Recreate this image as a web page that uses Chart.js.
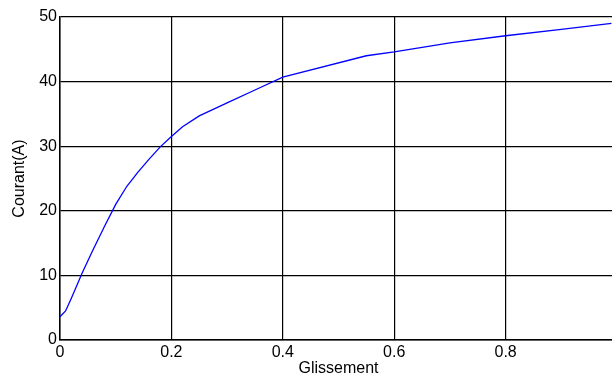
<!DOCTYPE html>
<html>
<head>
<meta charset="utf-8">
<script src="https://cdn.jsdelivr.net/npm/chart.js@4.4.0/dist/chart.umd.min.js"></script>
<style>
  html, body { margin: 0; padding: 0; background: #fff; overflow: hidden; }
  #wrap { width: 612px; height: 378px; overflow: hidden; }
  canvas { display: block; }
</style>
</head>
<body>
<div id="wrap"><canvas id="chart" width="630" height="378"></canvas></div>
<script>
// Glissement (slip) values and the current
const slip = [0, 0.01, 0.02, 0.04, 0.06, 0.08, 0.1, 0.12, 0.14, 0.16, 0.18, 0.2, 0.22, 0.25,
  0.3, 0.35, 0.4, 0.55, 0.6, 0.7, 0.8, 0.9, 0.99];
const current = [3.6, 4.5, 6.4, 10.4, 14.1, 17.6, 21.0, 23.8, 26.0, 28.0, 29.9, 31.5, 33.0, 34.7,
  36.7, 38.7, 40.7, 44.0, 44.6, 46.0, 47.1, 48.1, 49.0];

const xTicks = [0, 0.2, 0.4, 0.6, 0.8, 1];
const yTicks = [0, 10, 20, 30, 40, 50];

const points = slip.map((s, i) => ({ x: s, y: current[i] }));

const ctx = document.getElementById("chart").getContext("2d");
new Chart(ctx, {
    type: "line",
    data: {
        datasets: [
            {
                data: points,
                borderColor: "#0000ff",
                borderWidth: 1.3,
                pointRadius: 0,
                fill: false,
                tension: 0,
            },
        ],
    },
    options: {
        responsive: false,
        animation: false,
        layout: { padding: { left: 0, top: 17, right: 13, bottom: 0 } },
        plugins: {
            legend: { display: false },
            tooltip: { enabled: false },
        },
        scales: {
            x: {
                type: "linear",
                min: 0,
                max: 1,
                afterBuildTicks: (axis) => { axis.ticks = xTicks.map((v) => ({ value: v })); },
                afterFit: (axis) => { axis.height = 38; },
                grid: { color: "#000", lineWidth: 1.2, drawTicks: false },
                border: { color: "#000", width: 1.5 },
                ticks: {
                    color: "#000",
                    padding: 3,
                    maxRotation: 0,
                    font: { family: "Liberation Sans, Arial", size: 16 },
                    callback: (v) => String(+v.toFixed(1)),
                },
                title: {
                    display: true,
                    text: "Glissement",
                    color: "#000",
                    padding: { top: 0, bottom: 0 },
                    font: { family: "Liberation Sans, Arial", size: 16 },
                },
            },
            y: {
                min: 0,
                max: 50,
                afterBuildTicks: (axis) => { axis.ticks = yTicks.map((v) => ({ value: v })); },
                afterFit: (axis) => { axis.width = 60; },
                grid: { color: "#000", lineWidth: 1.2, drawTicks: false },
                border: { color: "#000", width: 1.5 },
                ticks: {
                    color: "#000",
                    padding: 3,
                    font: { family: "Liberation Sans, Arial", size: 16 },
                },
                title: {
                    display: true,
                    text: "Courant(A)",
                    color: "#000",
                    padding: { top: 10, bottom: 0 },
                    font: { family: "Liberation Sans, Arial", size: 16 },
                },
            },
        },
    },
});
</script>
</body>
</html>
